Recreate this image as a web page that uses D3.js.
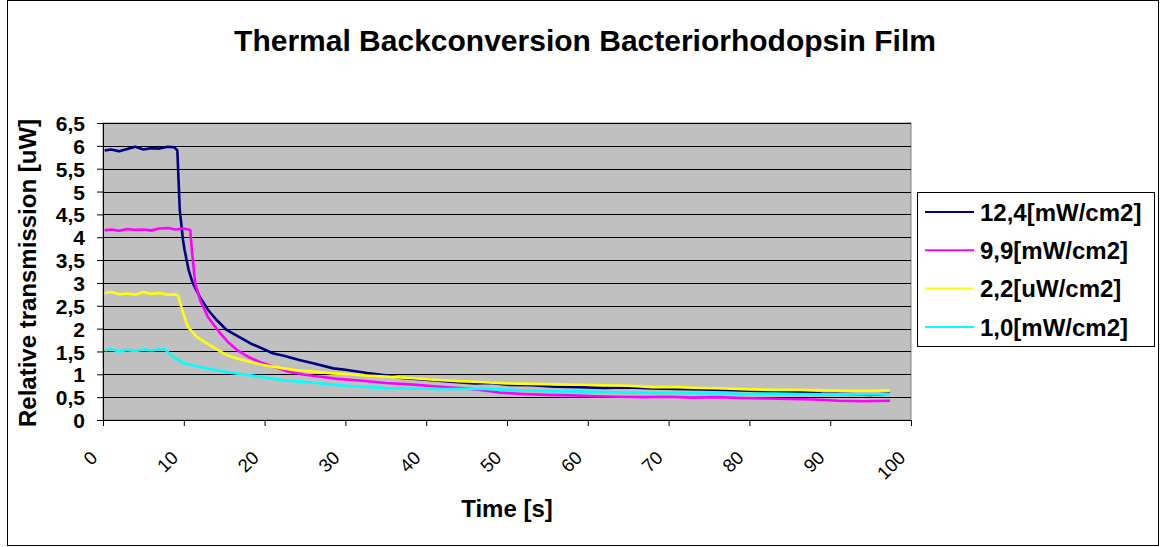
<!DOCTYPE html>
<html>
<head>
<meta charset="utf-8">
<script src="https://cdn.jsdelivr.net/npm/d3@7"></script>
<style>
  body { margin: 0; background: #fff; }
  svg { display: block; font-family: "Liberation Sans", Arial, sans-serif; }
</style>
</head>
<body>
<div id="chart"></div>
<script>
// series names, in legend order (later ones are drawn on top)
var seriesNames = ["12,4[mW/cm2]", "9,9[mW/cm2]", "2,2[uW/cm2]", "1,0[mW/cm2]"];
var seriesColors = ["#000080", "#FF00FF", "#FFFF00", "#00FFFF"];

// [time s, transmission uW]
var blue = [
    [0.2,5.90],[1,5.92],[2,5.88],[3,5.93],[4,5.98],[5,5.92],[6,5.95],[7,5.94],[8,5.98],[8.8,5.97],
    [9.2,5.90],[9.5,4.60],[9.9,3.94],[10.1,3.72],[10.6,3.28],[11.1,3.00],[12,2.69],[13,2.41],[14,2.20],
    [15.3,1.97],[16.5,1.85],[18.2,1.68],[19.5,1.58],[21,1.46],[22.5,1.40],[24.4,1.31],[26,1.24],
    [28.5,1.13],[30,1.10],[32.7,1.03],[35,0.98],[37,0.92],[40,0.88],[43,0.84],[46,0.80],[48,0.81],
    [50,0.77],[53,0.76],[56,0.73],[59,0.72],[62,0.70],[65,0.71],[68,0.69],[71,0.68],[74,0.67],
    [77,0.66],[80,0.64],[83,0.62],[86,0.61],[89,0.58],[92,0.57],[95,0.55],[97.4,0.58]
];
var magenta = [
    [0.2,4.15],[1,4.17],[2,4.14],[3,4.18],[4,4.16],[5,4.17],[6,4.15],[7,4.19],[8,4.20],[9,4.17],
    [10,4.19],[10.8,4.16],[11.0,3.72],[11.4,3.00],[12,2.63],[13,2.25],[14.5,1.90],[15.5,1.70],
    [16.6,1.53],[18,1.38],[19.4,1.27],[21,1.17],[23.1,1.05],[25,0.99],[27.2,0.94],[29,0.90],
    [31.4,0.87],[35,0.81],[38,0.78],[41,0.74],[44,0.70],[46.7,0.66],[49,0.60],[52,0.57],[55,0.55],
    [58,0.54],[61,0.52],[64,0.51],[67,0.50],[70,0.51],[73,0.49],[76,0.50],[79,0.48],[82,0.47],
    [85,0.46],[88,0.45],[91,0.42],[94,0.41],[97.4,0.42]
];
var yellow = [
    [0.2,2.78],[1,2.80],[2,2.75],[3,2.77],[4,2.74],[5,2.80],[6,2.76],[7,2.78],[8,2.74],[9,2.75],
    [9.3,2.72],[9.8,2.41],[10.5,2.04],[11.6,1.82],[13.2,1.64],[15.3,1.42],[16.5,1.35],[18.2,1.27],
    [20,1.20],[22.3,1.13],[24,1.09],[26.5,1.05],[28.5,1.02],[30.6,1.00],[33,0.97],[35,0.95],
    [38,0.92],[41,0.88],[44,0.85],[46.7,0.83],[50,0.80],[53,0.79],[56,0.78],[59,0.77],[62,0.76],
    [65,0.75],[68,0.72],[71,0.72],[74,0.70],[77,0.69],[80,0.67],[83,0.66],[86,0.66],[89,0.65],
    [92,0.64],[95,0.64],[97.4,0.65]
];
var cyan = [
    [0.2,1.52],[1,1.55],[2,1.50],[3,1.53],[4,1.51],[5,1.54],[6,1.52],[7,1.55],[7.7,1.54],
    [8.7,1.38],[9.9,1.25],[11,1.20],[12,1.16],[14.1,1.09],[16,1.03],[18.2,0.98],[20,0.93],
    [22.3,0.87],[24.4,0.84],[26.5,0.81],[28.5,0.77],[30.6,0.74],[33,0.72],[35,0.70],[38,0.69],
    [41,0.68],[44,0.68],[47,0.68],[50,0.66],[53,0.64],[56,0.63],[59,0.62],[62,0.61],[65,0.60],
    [68,0.59],[71,0.59],[74,0.58],[77,0.58],[80,0.57],[83,0.58],[86,0.57],[89,0.56],[92,0.56],
    [95,0.56],[97.4,0.57]
];
var allSeries = [blue, magenta, yellow, cyan];

var xTicks = [0,10,20,30,40,50,60,70,80,90,100];
var yTicks = [0,0.5,1,1.5,2,2.5,3,3.5,4,4.5,5,5.5,6,6.5];

var W = 1160, H = 547;
var plot = {left: 103, right: 911, top: 123, bottom: 420};

var svg = d3.select("#chart").append("svg")
    .attr("width", W).attr("height", H);

// outer chart frame
svg.append("rect")
    .attr("x", 7.5).attr("y", 0.5)
    .attr("width", W - 9).attr("height", H - 2)
    .attr("fill", "#fff").attr("stroke", "#000");

var x = d3.scaleLinear().domain([0, 100]).range([plot.left, plot.right]);
var y = d3.scaleLinear().domain([0, 6.5]).range([plot.bottom, plot.top]);

// plot area
svg.append("rect")
    .attr("x", plot.left).attr("y", plot.top)
    .attr("width", plot.right - plot.left).attr("height", plot.bottom - plot.top)
    .attr("fill", "#C0C0C0").attr("stroke", "#808080").attr("stroke-width", 1);

// horizontal gridlines
svg.append("g").selectAll("line").data(yTicks.slice(1)).enter().append("line")
    .attr("x1", plot.left).attr("x2", plot.right)
    .attr("y1", function(d) { return Math.round(y(d)) + 0.5; })
    .attr("y2", function(d) { return Math.round(y(d)) + 0.5; })
    .attr("stroke", "#000").attr("stroke-width", 1);

// y axis
var yAxis = svg.append("g")
    .attr("transform", "translate(" + plot.left + ",0)")
    .call(d3.axisLeft(y).tickValues(yTicks).tickSize(6).tickPadding(12)
        .tickFormat(function(d) { return String(d).replace(".", ","); }));
yAxis.select(".domain").attr("stroke", "#000");
yAxis.selectAll("text")
    .attr("font-family", "Liberation Sans, Arial, sans-serif")
    .attr("font-size", 21).attr("font-weight", "bold").attr("fill", "#000")
    .attr("dy", "0.36em");

// x axis
var xAxis = svg.append("g")
    .attr("transform", "translate(0," + plot.bottom + ")")
    .call(d3.axisBottom(x).tickValues(xTicks).tickSize(6).tickFormat(d3.format("d")));
xAxis.select(".domain").attr("stroke", "#000");
xAxis.selectAll("text")
    .attr("font-family", "Liberation Sans, Arial, sans-serif")
    .attr("font-size", 18.5).attr("fill", "#000")
    .attr("text-anchor", "end")
    .attr("y", 0).attr("dy", 0)
    .attr("transform", "translate(-5,39) rotate(-45)");

// series lines
var line = d3.line()
    .x(function(d) { return x(d[0]); })
    .y(function(d) { return y(d[1]); });

svg.append("g").selectAll("path").data(allSeries).enter().append("path")
    .attr("d", line)
    .attr("fill", "none")
    .attr("stroke", function(d, i) { return seriesColors[i]; })
    .attr("stroke-width", 2.6)
    .attr("stroke-linejoin", "round");

// title
svg.append("text")
    .attr("x", 585).attr("y", 51)
    .attr("text-anchor", "middle")
    .attr("font-size", 30).attr("font-weight", "bold")
    .text("Thermal Backconversion Bacteriorhodopsin Film");

// axis titles
svg.append("text")
    .attr("transform", "translate(36,273) rotate(-90)")
    .attr("text-anchor", "middle")
    .attr("font-size", 24).attr("font-weight", "bold")
    .text("Relative transmission [uW]");

svg.append("text")
    .attr("x", 507).attr("y", 517)
    .attr("text-anchor", "middle")
    .attr("font-size", 24).attr("font-weight", "bold")
    .text("Time [s]");

// legend
var legend = svg.append("g");
legend.append("rect")
    .attr("x", 917.5).attr("y", 192.5)
    .attr("width", 237).attr("height", 154)
    .attr("fill", "#fff").attr("stroke", "#000");

var rows = legend.selectAll("g.row").data(seriesNames).enter().append("g")
    .attr("class", "row")
    .attr("transform", function(d, i) { return "translate(0," + (212 + i * 38.3) + ")"; });
rows.append("line")
    .attr("x1", 925).attr("x2", 974).attr("y1", 0).attr("y2", 0)
    .attr("stroke", function(d, i) { return seriesColors[i]; })
    .attr("stroke-width", 2);
rows.append("text")
    .attr("x", 980).attr("y", 0).attr("dy", "0.36em")
    .attr("font-size", 24).attr("font-weight", "bold")
    .text(function(d) { return d; });
</script>
</body>
</html>
